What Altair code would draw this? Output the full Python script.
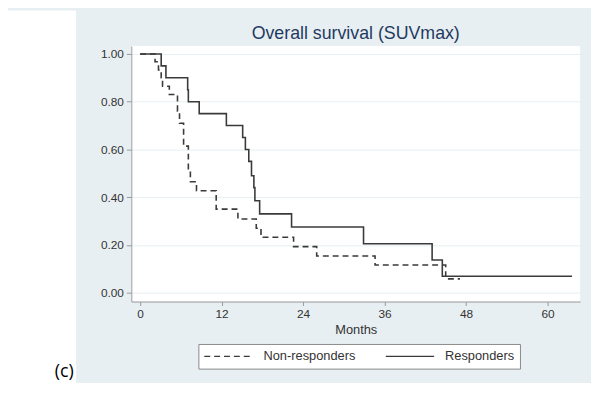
import altair as alt
import pandas as pd

# Kaplan-Meier step points
resp_t = [0, 3.1, 3.8, 7.0, 7.1, 8.7, 12.7, 15.1, 15.5, 16.0, 16.4, 16.75, 16.9, 17.6, 22.3, 32.9, 43.0, 44.5, 63.6]
resp_s = [1.0, 0.95, 0.90, 0.85, 0.80, 0.75, 0.70, 0.65, 0.60, 0.55, 0.49, 0.44, 0.385, 0.33, 0.275, 0.205, 0.137, 0.069, 0.069]

non_t = [0, 2.2, 2.7, 3.1, 3.3, 4.3, 5.5, 5.8, 6.4, 7.1, 7.4, 8.3, 11.2, 14.4, 17.1, 17.8, 22.6, 26.0, 34.6, 45.0, 47.1]
non_s = [1.0, 0.967, 0.933, 0.90, 0.865, 0.830, 0.76, 0.71, 0.614, 0.51, 0.465, 0.427, 0.35, 0.309, 0.27, 0.232, 0.193, 0.154, 0.116, 0.058, 0.058]

groups = ["Non-responders", "Responders"]
x_ticks = [0, 12, 24, 36, 48, 60]
y_ticks = [0.0, 0.2, 0.4, 0.6, 0.8, 1.0]
title_text = "Overall survival (SUVmax)"
panel_label = "(c)"

rows = []
for t, s in zip(non_t, non_s):
    rows.append({"Months": t, "Survival": s, "Group": groups[0], "order": len(rows)})
for t, s in zip(resp_t, resp_s):
    rows.append({"Months": t, "Survival": s, "Group": groups[1], "order": len(rows)})
df = pd.DataFrame(rows)

PANEL = "#e8eff2"
LINE = "#3a3a3a"
W, H = 455, 259

lines = alt.Chart(df).mark_line(interpolate="step-after", strokeWidth=1.6, color=LINE).encode(
    x=alt.X("Months:Q",
            scale=alt.Scale(domain=[-1.3, 64.8], nice=False, zero=False),
            axis=alt.Axis(values=x_ticks, grid=False, tickSize=4, labelPadding=3,
                          title="Months", titlePadding=4, titleFontSize=13,
                          titleFontWeight="normal", titleColor="#333333")),
    y=alt.Y("Survival:Q",
            scale=alt.Scale(domain=[-0.037, 1.033], nice=False, zero=False),
            axis=alt.Axis(values=y_ticks, format=".2f", grid=True, gridColor="#e6eff2",
                          tickSize=5, labelPadding=3, title=None)),
    strokeDash=alt.StrokeDash("Group:N",
                              scale=alt.Scale(domain=groups, range=[[6, 4], [1, 0]]),
                              legend=alt.Legend(title=None, orient="none", legendX=68, legendY=302,
                                                direction="horizontal", fillColor="white",
                                                strokeColor="#888888", padding=5, clipHeight=15,
                                                symbolType="stroke", symbolSize=2401,
                                                symbolStrokeWidth=1.3, symbolStrokeColor=LINE,
                                                labelFontSize=13, labelOffset=10,
                                                columnPadding=29, labelColor="#333333")),
    order="order:Q",
)

blank = pd.DataFrame({"k": [0]})
left_white = alt.Chart(blank).mark_rect(color="white").encode(
    x=alt.value(-125), x2=alt.value(-56), y=alt.value(-36), y2=alt.value(345)
)
label_c = alt.Chart(pd.DataFrame({"t": [panel_label]})).mark_text(
    font="Open Sans", fontSize=18, color="black", align="center", baseline="alphabetic"
).encode(text="t:N", x=alt.value(-68), y=alt.value(335))

title = alt.Chart(pd.DataFrame({"t": [title_text]})).mark_text(
    font="Liberation Sans", fontSize=18, color="#1f3a60", align="center", baseline="middle"
).encode(text="t:N", x=alt.value(W / 2), y=alt.value(-12))

chart = alt.layer(left_white, lines, label_c, title).properties(
    width=W, height=H,
    autosize=alt.AutoSizeParams(type="none"),
    padding={"left": 125, "top": 36, "right": 11, "bottom": 80},
    background=PANEL,
).configure_view(fill="white", strokeWidth=0).configure_axis(
    labelFont="Liberation Sans", labelFontSize=12, labelColor="#333333",
    titleFont="Liberation Sans", domainColor="#999999", tickColor="#999999"
).configure_legend(labelFont="Liberation Sans")

chart.save("out.html", embed_options={"renderer": "svg", "actions": False})
